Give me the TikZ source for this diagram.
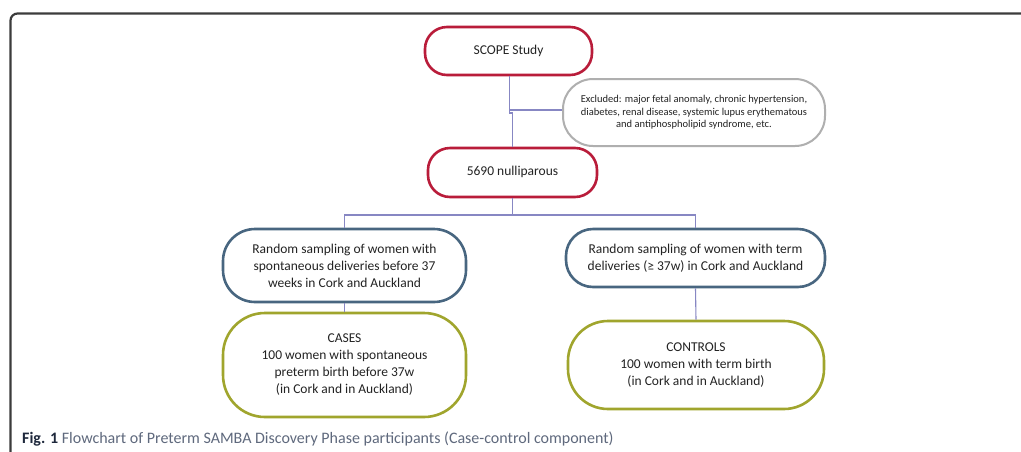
\documentclass[tikz,border=0pt]{standalone}
\usepackage{fontspec}
\setmainfont{Carlito}
\definecolor{redc}{RGB}{185,28,58}
\definecolor{bluec}{RGB}{72,102,128}
\definecolor{olivec}{RGB}{160,165,45}
\definecolor{grayc}{RGB}{175,175,175}
\definecolor{connc}{RGB}{135,135,195}
\definecolor{textc}{RGB}{35,35,35}
\definecolor{framec}{RGB}{60,60,60}
\definecolor{capc}{RGB}{95,105,125}
\definecolor{capb}{RGB}{30,40,60}
\begin{document}
\begin{tikzpicture}[x=1pt,y=-1pt,
  box/.style={draw, line width=2.6pt, align=center, inner sep=0pt, text=textc,
    font=\fontsize{13.5}{17}\selectfont},
  conn/.style={draw=connc, line width=1.1pt}]
\useasboundingbox (0,0) rectangle (1021,451);
\clip (0,0) rectangle (1021,451);
\fill[white] (0,0) rectangle (1021,451);
\draw[line width=2.2pt, framec, rounded corners=7pt] (10.5,480) -- (10.5,13.5) -- (1040,13.5);

\node[box, draw=redc, minimum width=167, minimum height=48, rounded corners=22pt] (scope) at (508.5,51) {\raisebox{-2pt}{SCOPE Study}};
\node[box, draw=grayc, line width=2pt, minimum width=262, minimum height=67, rounded corners=30pt,
  font=\fontsize{10.5}{12.5}\selectfont] (excl) at (694,112.5)
  {Excluded: major fetal anomaly, chronic hypertension,\\ diabetes, renal disease, systemic lupus erythematous\\ and antiphospholipid syndrome, etc.};
\node[box, draw=redc, minimum width=169, minimum height=49, rounded corners=22pt] (nulli) at (512.5,172.5) {\raisebox{4pt}{5690 nulliparous}};
\node[box, draw=bluec, minimum width=243, minimum height=73, rounded corners=32pt] (lb) at (344.5,265.5)
  {Random sampling of women with\\ spontaneous deliveries before 37\\ weeks in Cork and Auckland};
\node[box, draw=bluec, minimum width=259, minimum height=58, rounded corners=27pt] (rb) at (695.5,258)
  {Random sampling of women with term\\ deliveries (≥ 37w) in Cork and Auckland};
\node[box, draw=olivec, minimum width=243, minimum height=104, rounded corners=42pt] (lg) at (344.5,365)
  {CASES\\ 100 women with spontaneous\\ preterm birth before 37w\\ (in Cork and in Auckland)};
\node[box, draw=olivec, minimum width=256, minimum height=88, rounded corners=40pt] (rg) at (696,365)
  {CONTROLS\\ 100 women with term birth\\ (in Cork and in Auckland)};

\coordinate (j1) at (509.5,110);
\coordinate (hy) at (0,215);
\draw[conn] (scope.south -| j1) -- (j1) -- (j1 -| excl.west);
\draw[conn] (j1) -- ++(0,3) -| (nulli.north);
\draw[conn] (nulli.south) -- (nulli.south |- hy);
\draw[conn] (lb.north) -- (lb.north |- hy) -- (rb.north |- hy) -- (rb.north);
\draw[conn] (lb.south) -- (lg.north);
\draw[conn] (rb.south) -- (rg.north);

\node[anchor=base west, inner sep=0pt, text=capc, font=\fontsize{16}{18}\selectfont] (cap) at (22,443)
  {{\color{capb}\textbf{Fig. 1}} Flowchart of Preterm SAMBA Discovery Phase participants (Case-control component)};
\end{tikzpicture}
\end{document}
